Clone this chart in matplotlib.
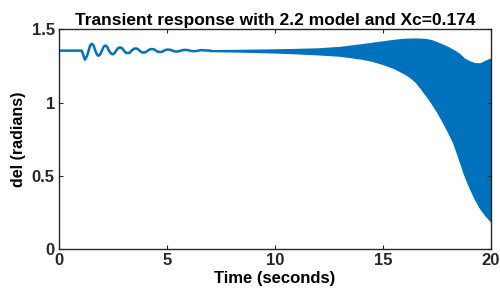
import matplotlib
matplotlib.use('Agg')
import matplotlib.pyplot as plt

# early swing: flat start then decaying oscillation
t_swing = [0, 1.05, 1.10, 1.20, 1.30, 1.37, 1.44, 1.52, 1.60, 1.68, 1.76, 1.83,
           1.91, 1.99, 2.07, 2.15, 2.23, 2.31, 2.40, 2.48, 2.56, 2.65, 2.74, 2.83,
           2.92, 3.00, 3.09, 3.18, 3.27, 3.36, 3.46, 3.55, 3.64, 3.73, 3.83, 3.92,
           4.01, 4.11, 4.21, 4.30, 4.39, 4.49, 4.59, 4.68, 4.77, 4.87, 4.96, 5.05,
           5.15, 5.25, 5.35, 5.45, 5.55, 5.65, 5.75, 5.85, 5.95, 6.05, 6.15, 6.25,
           6.35, 6.45, 6.55, 6.65, 6.80, 7.0]
del_swing = [1.355, 1.355, 1.335, 1.293, 1.320, 1.355, 1.390, 1.402, 1.390, 1.355,
             1.328, 1.320, 1.330, 1.356, 1.382, 1.390, 1.382, 1.356, 1.336, 1.330,
             1.336, 1.356, 1.372, 1.377, 1.372, 1.356, 1.341, 1.338, 1.341, 1.355,
             1.367, 1.370, 1.367, 1.355, 1.344, 1.342, 1.344, 1.355, 1.364, 1.366,
             1.364, 1.355, 1.347, 1.346, 1.347, 1.355, 1.361, 1.362, 1.361, 1.355,
             1.350, 1.349, 1.350, 1.355, 1.359, 1.360, 1.359, 1.355, 1.352, 1.351,
             1.352, 1.355, 1.358, 1.358, 1.356, 1.355]

# later fast oscillation, drawn as its envelope
t_env = [7, 8, 9, 10, 11, 12, 13, 14, 14.5, 15, 15.5, 16, 16.25, 16.5, 16.75, 17,
         17.25, 17.5, 17.75, 18, 18.25, 18.5, 18.75, 19, 19.25, 19.5, 19.75, 20]
del_upper = [1.357, 1.358, 1.360, 1.362, 1.365, 1.369, 1.379, 1.397, 1.407, 1.417,
             1.427, 1.434, 1.435, 1.436, 1.435, 1.432, 1.424, 1.410, 1.395, 1.378,
             1.358, 1.335, 1.300, 1.280, 1.268, 1.267, 1.285, 1.300]
del_lower = [1.353, 1.351, 1.348, 1.344, 1.338, 1.331, 1.322, 1.302, 1.287, 1.265,
             1.238, 1.200, 1.176, 1.145, 1.100, 1.050, 0.998, 0.940, 0.875, 0.805,
             0.730, 0.625, 0.515, 0.425, 0.345, 0.280, 0.230, 0.190]

x_ticks = [0, 5, 10, 15, 20]
y_ticks = [0, 0.5, 1, 1.5]
y_tick_labels = ['0', '0.5', '1', '1.5']

plt.rcParams['font.family'] = ['Liberation Sans', 'DejaVu Sans']
plt.rcParams['font.weight'] = 'bold'

blue = '#0072BD'
fig = plt.figure(figsize=(5, 2.91), dpi=100)
ax = fig.add_axes([0.118, 0.144, 0.864, 0.755])

ax.plot(t_swing, del_swing, color=blue, linewidth=1.8, solid_joinstyle='round')
ax.fill_between(t_env, del_lower, del_upper, color=blue, linewidth=1.2,
                edgecolor=blue)

ax.set_xlim(0, 20)
ax.set_ylim(0, 1.5)
ax.set_xticks(x_ticks)
ax.set_xticklabels([str(x) for x in x_ticks])
ax.set_yticks(y_ticks)
ax.set_yticklabels(y_tick_labels)
ax.tick_params(direction='in', top=True, right=True, length=3, width=0.8,
               labelsize=12, colors='#262626', pad=3)
for s in ax.spines.values():
    s.set_color('#262626')
    s.set_linewidth(1.0)

ax.set_title('Transient response with 2.2 model and Xc=0.174', fontsize=12.5,
             fontweight='bold', pad=3)
ax.set_xlabel('Time (seconds)', fontsize=12, fontweight='bold', labelpad=2)
ax.set_ylabel('del (radians)', fontsize=11.5, fontweight='bold', labelpad=4)

fig.savefig('out.png', dpi=100)
